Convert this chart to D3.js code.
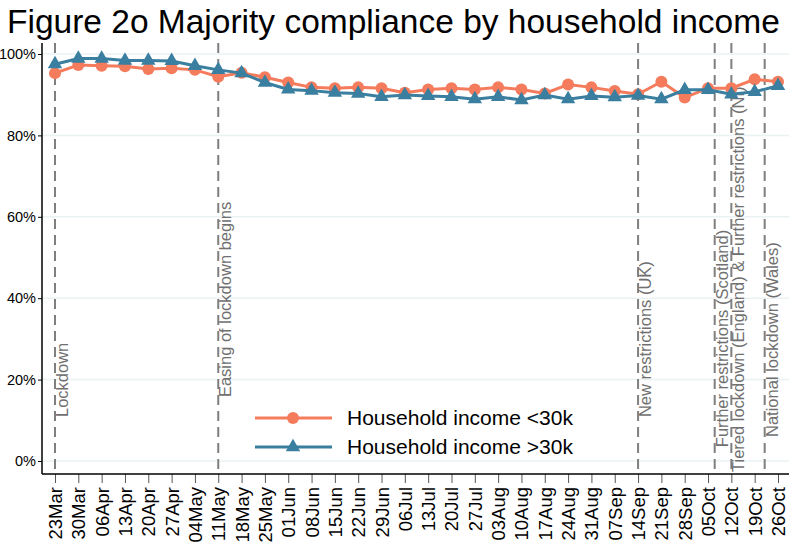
<!DOCTYPE html>
<html>
<head>
<meta charset="utf-8">
<script src="https://cdn.jsdelivr.net/npm/d3@7"></script>
<style>
  body { margin: 0; background: #fff; }
  svg { font-family: "Liberation Sans", Arial, sans-serif; }
</style>
</head>
<body>
<svg id="chart" width="789" height="551"></svg>
<script>
// weekly survey dates (2020)
const weeks = ['23Mar','30Mar','06Apr','13Apr','20Apr','27Apr','04May','11May','18May','25May',
  '01Jun','08Jun','15Jun','22Jun','29Jun','06Jul','13Jul','20Jul','27Jul','03Aug','10Aug',
  '17Aug','24Aug','31Aug','07Sep','14Sep','21Sep','28Sep','05Oct','12Oct','19Oct','26Oct'];

// % majority compliance
const incomeUnder30k = [95.3, 97.3, 97.1, 97.0, 96.3, 96.5, 96.1, 94.4, 95.4, 94.3,
  93.0, 91.8, 91.6, 91.8, 91.6, 90.5, 91.3, 91.6, 91.3, 91.8, 91.3,
  90.3, 92.5, 91.8, 90.9, 90.1, 93.2, 89.3, 91.6, 91.6, 93.8, 93.2];
const incomeOver30k = [97.5, 98.9, 98.9, 98.4, 98.4, 98.3, 97.1, 96.1, 95.3, 93.0,
  91.3, 91.0, 90.5, 90.3, 89.5, 89.9, 89.7, 89.5, 88.9, 89.5, 88.7,
  89.9, 88.9, 89.7, 89.4, 89.8, 88.9, 91.2, 91.2, 90.1, 90.7, 92.2];

const seriesNames = ['Household income <30k', 'Household income >30k'];

const yTicks = [0, 20, 40, 60, 80, 100];

// policy events
const eventDates = ['23Mar', '11May', '14Sep', '07Oct', '12Oct', '22Oct'];
const eventLabels = ['Lockdown', 'Easing of lockdown begins', 'New restrictions (UK)',
  'Further restrictions (Scotland)', 'Tiered lockdown (England) & Further restrictions (NI)',
  'National lockdown (Wales)'];

const parse = d3.timeParse('%d%b%Y');
const toDate = s => parse(s + '2020');

const svg = d3.select('#chart');
const red = '#f47b5c', blue = '#3a7ea0';

const x = d3.scaleTime()
  .domain([toDate(weeks[0]), toDate(weeks[weeks.length - 1])])
  .range([55, 778]);
const y = d3.scaleLinear().domain([0, 100]).range([461, 54]);

const plotLeft = 42, plotRight = 789, plotTop = 43, plotBottom = 474;

// gridlines
svg.append('g').selectAll('line').data(yTicks).enter().append('line')
  .attr('x1', plotLeft).attr('x2', plotRight)
  .attr('y1', d => y(d)).attr('y2', d => y(d))
  .attr('stroke', '#eaf2f3').attr('stroke-width', 1.5);

// event lines + labels
const labelStart = [10.8, 15.7, 10.8, 3.4, -2.7, 5.9]; // where each rotated label begins (y value)
const ev = svg.append('g');
eventDates.forEach((d, i) => {
  const xp = x(toDate(d));
  ev.append('line')
    .attr('x1', xp).attr('x2', xp)
    .attr('y1', plotTop).attr('y2', plotBottom)
    .attr('stroke', '#7f7f7f').attr('stroke-width', 2)
    .attr('stroke-dasharray', '10,6');
  ev.append('text')
    .attr('transform', `translate(${xp + 13},${y(labelStart[i])}) rotate(-90)`)
    .attr('fill', '#707070')
    .style('font-size', '16.5px')
    .text(eventLabels[i]);
});

// axes
const yAxis = d3.axisLeft(y).tickValues(yTicks).tickSize(4).tickPadding(2)
  .tickFormat(d => d + '%');
const yg = svg.append('g').attr('transform', `translate(${plotLeft},0)`).call(yAxis);
yg.select('.domain').remove();
yg.selectAll('text').style('font-size', '14.5px').attr('fill', '#000');
svg.append('line').attr('x1', plotLeft).attr('x2', plotLeft)
  .attr('y1', plotTop).attr('y2', plotBottom).attr('stroke', '#000').attr('stroke-width', 1.5);

const xAxis = d3.axisBottom(x).tickValues(weeks.map(toDate)).tickSize(9)
  .tickFormat(d3.timeFormat('%d%b'));
const xg = svg.append('g').attr('transform', `translate(0,${plotBottom})`).call(xAxis);
xg.select('.domain').remove();
xg.selectAll('line').attr('stroke', '#555');
xg.selectAll('text')
  .style('font-size', '18.5px').attr('fill', '#000')
  .attr('text-anchor', 'end')
  .attr('transform', 'translate(0,4) rotate(-90)')
  .attr('x', -9).attr('y', 0).attr('dy', '0.35em');
svg.append('line').attr('x1', plotLeft).attr('x2', plotRight)
  .attr('y1', plotBottom).attr('y2', plotBottom).attr('stroke', '#000').attr('stroke-width', 1.5);

// series
const line = d3.line().x(d => x(d[0])).y(d => y(d[1]));
const triangle = d3.symbol().type(d3.symbolTriangle).size(90);

function drawSeries(vals, color, marker) {
  const pts = weeks.map((w, i) => [toDate(w), vals[i]]);
  svg.append('path').datum(pts).attr('d', line)
    .attr('fill', 'none').attr('stroke', color).attr('stroke-width', 3);
  const g = svg.append('g');
  if (marker === 'circle') {
    g.selectAll('circle').data(pts).enter().append('circle')
      .attr('cx', d => x(d[0])).attr('cy', d => y(d[1])).attr('r', 6).attr('fill', color);
  } else {
    g.selectAll('path').data(pts).enter().append('path')
      .attr('d', triangle)
      .attr('transform', d => `translate(${x(d[0])},${y(d[1])})`).attr('fill', color);
  }
}
drawSeries(incomeUnder30k, red, 'circle');
drawSeries(incomeOver30k, blue, 'triangle');

// legend
const legend = svg.append('g').attr('transform', 'translate(255,418)');
[[red, 'circle'], [blue, 'triangle']].forEach(([c, m], i) => {
  const row = legend.append('g').attr('transform', `translate(0,${i * 29})`);
  row.append('line').attr('x1', 0).attr('x2', 77).attr('stroke', c).attr('stroke-width', 3);
  if (m === 'circle') row.append('circle').attr('cx', 38).attr('r', 6).attr('fill', c);
  else row.append('path').attr('d', triangle).attr('transform', 'translate(38,0)').attr('fill', c);
  row.append('text').attr('x', 92).attr('dy', '0.35em')
    .style('font-size', '21px').text(seriesNames[i]);
});

// title
svg.append('text').attr('x', 7).attr('y', 33)
  .style('font-size', '33.5px').text('Figure 2o Majority compliance by household income');
</script>
</body>
</html>
